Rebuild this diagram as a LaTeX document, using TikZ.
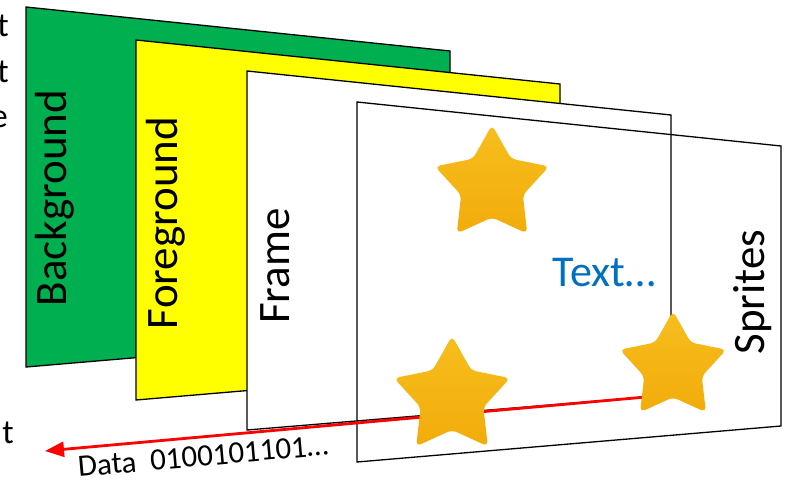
\documentclass[tikz,border=0pt]{standalone}
\usepackage{fontspec}
\setmainfont{Carlito}
\usetikzlibrary{shapes.geometric,arrows.meta}
\definecolor{bggreen}{RGB}{0,176,80}
\definecolor{fgyellow}{RGB}{255,255,0}
\definecolor{txtblue}{RGB}{0,112,192}
\definecolor{starlt}{RGB}{246,190,30}
\definecolor{stardk}{RGB}{242,172,10}
\begin{document}
\begin{tikzpicture}[x=1pt,y=-1pt,
  panel/.style={draw=black,line width=1.3pt,line join=miter},
  biglabel/.style={inner sep=0pt,font=\fontsize{45}{50}\selectfont,rotate=90},
  fragtext/.style={inner sep=0pt,font=\fontsize{34}{40}\selectfont,anchor=base east},
  starnode/.style={star,star points=5,star point ratio=1.85,inner sep=0pt,
     draw=none,top color=starlt,bottom color=stardk,rounded corners=5pt},
  datarrow/.style={draw=red,line width=2.8pt,-{Triangle[length=19pt,width=15pt]}}
]
\useasboundingbox (0,0) rectangle (787,481);
\begin{scope}
\clip (0,0) rectangle (787,481);
\node[fragtext] (f1) at (9,37) {t};
\node[fragtext] (f2) at (9,83) {t};
\node[fragtext] (f3) at (8,128) {e};
\node[fragtext] (f4) at (14,443) {t};
\end{scope}
% panels
\draw[panel,fill=bggreen] (26,7) -- (450,51) -- (450,331) -- (26,367) -- cycle;
\draw[panel,fill=fgyellow] (136,40) -- (560,84) -- (560,364) -- (136,400) -- cycle;
\draw[panel,fill=white] (247,71) -- (671,115) -- (671,395) -- (247,430) -- cycle;
\draw[panel] (357,102) -- (781,146) -- (781,426) -- (357,462) -- cycle;
% labels
\node[biglabel] (bg) at (55,198) {Background};
\node[biglabel] (fg) at (166,223) {Foreground};
\node[biglabel] (fr) at (275,266) {Frame};
\node[biglabel] (sp) at (753,292) {Sprites};
\node[inner sep=0pt,font=\fontsize{44}{50}\selectfont,text=txtblue] (tx) at (604,273) {Text…};
% data arrow
\coordinate (ds) at (668,395);
\coordinate (de) at (45,451);
\draw[datarrow] (ds) -- (de);
\node[inner sep=0pt,font=\fontsize{31}{36}\selectfont,rotate=5] (dl) at (203,456) {Data\ \ 0100101101…};
% stars
\node[starnode,minimum size=120pt] (s1) at (492,185) {};
\node[starnode,minimum size=122pt] (s2) at (452,397) {};
\node[starnode,minimum size=112pt] (s3) at (673,367) {};
\end{tikzpicture}
\end{document}
